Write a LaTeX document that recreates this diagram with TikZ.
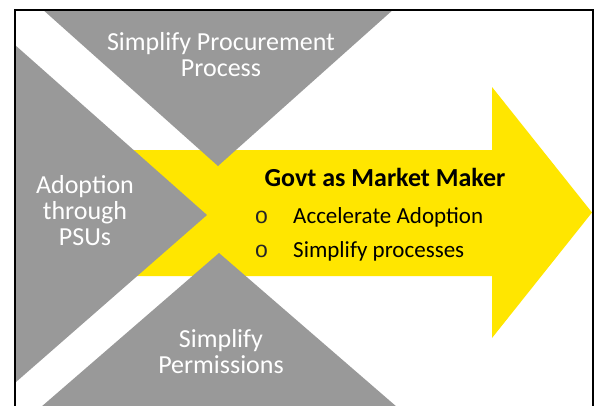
\documentclass[tikz,border=0pt]{standalone}
\usepackage{fontspec}
\setmainfont{Carlito}
\newfontfamily\bulletfont{Liberation Mono}
\definecolor{ygold}{HTML}{FFE600}
\definecolor{tgray}{HTML}{999999}
\begin{document}
\begin{tikzpicture}[x=1pt,y=-1pt,
  graytext/.style={text=white,font=\fontsize{26}{26}\selectfont,inner sep=0pt,anchor=base},
  titletext/.style={text=black,font=\fontsize{26}{26}\selectfont\bfseries,inner sep=0pt,anchor=base},
  itemtext/.style={text=black,font=\fontsize{23}{23}\selectfont,inner sep=0pt,anchor=base west},
  bullettext/.style={text=black!85,font=\bulletfont\fontsize{23}{23}\selectfont,inner sep=0pt,anchor=base},
  grayshape/.style={fill=tgray},
  arrowshape/.style={fill=ygold}]
\useasboundingbox (0,0) rectangle (599,405);
\clip (0,0) rectangle (599,405);
\fill[white] (0,0) rectangle (599,405);
\begin{scope}
  \clip (15,10) rectangle (593,420);
  % yellow arrow
  \fill[arrowshape] (0,150) -- (492,150) -- (492,87) -- (592,212.5) -- (492,338) -- (492,276) -- (0,276) -- cycle;
  % top triangle
  \fill[grayshape] (32,0) -- (218,166) -- (404,0) -- cycle;
  % left triangle
  \fill[grayshape] (0,31.7) -- (207,215) -- (0,396) -- cycle;
  % bottom triangle
  \fill[grayshape] (26,420) -- (219,253) -- (412,420) -- cycle;
\end{scope}
\draw[line width=2pt] (15,10) rectangle (593,430);
% texts
\node[graytext] (procA) at (221,50) {Simplify Procurement};
\node[graytext] (procB) at (221,76) {Process};
\node[graytext] (adoA) at (85,193) {Adoption};
\node[graytext] (adoB) at (85,219) {through};
\node[graytext] (adoC) at (85,245) {PSUs};
\node[graytext] (permA) at (221,347) {Simplify};
\node[graytext] (permB) at (221,373) {Permissions};
\node[titletext] (title) at (385,186) {Govt as Market Maker};
\node[bullettext] (bulA) at (261.5,223) {o};
\node[bullettext] (bulB) at (261.5,257) {o};
\node[itemtext] (itemA) at (293,223) {Accelerate Adoption};
\node[itemtext] (itemB) at (293,257) {Simplify processes};
\end{tikzpicture}
\end{document}
